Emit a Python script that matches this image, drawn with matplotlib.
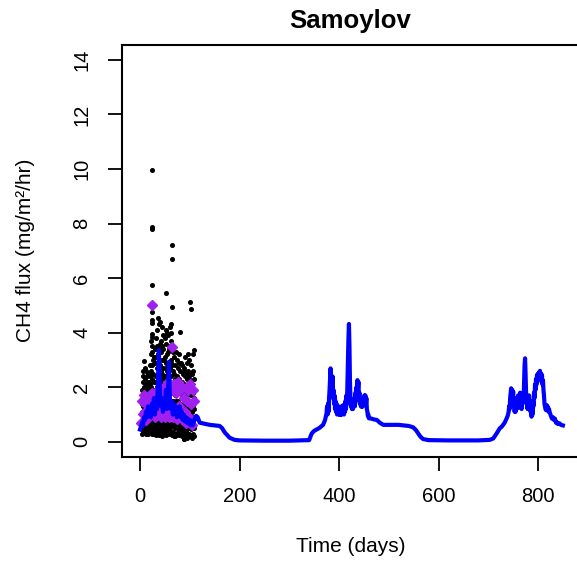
import matplotlib
matplotlib.use("Agg")
import matplotlib.pyplot as plt

plt.rcParams["font.family"] = ["Liberation Sans", "DejaVu Sans"]

# --- modelled CH4 flux (blue line) in pieces ---
# spring/summer of year 1
model_day_a = [0, 2, 4, 6, 8, 10, 12, 14, 16, 18, 20, 22, 24, 26, 28, 30, 32, 34, 36, 38,
               40, 42, 44, 46, 48, 50, 52, 54, 56, 58, 60, 62, 64, 66, 68, 70, 72, 74, 76, 78,
               80, 82, 84, 86, 88, 90, 92, 94, 96, 98, 100, 102, 104, 106, 108, 110, 113, 116, 120, 125,
               130, 140, 150, 160, 165, 170, 175, 180, 190, 200, 250, 300, 340, 345, 350, 360, 368, 372]
model_flux_a = [0.45, 0.55, 0.7, 0.6, 0.9, 0.8, 1.1, 0.9, 1.3, 1.0, 1.2, 0.9, 1.4, 1.1, 1.6, 1.0, 1.5, 1.2, 2.2, 3.36,
                1.8, 1.3, 1.6, 1.1, 1.5, 1.3, 1.9, 1.2, 1.7, 2.93, 1.6, 1.2, 1.5, 1.0, 1.4, 1.1, 1.3, 0.9, 1.2, 1.0,
                1.3, 0.9, 1.1, 0.8, 1.0, 0.75, 0.9, 0.7, 0.85, 0.65, 0.8, 0.6, 0.75, 0.6, 0.7, 0.85, 0.95, 0.9, 0.7, 0.68,
                0.66, 0.62, 0.6, 0.58, 0.5, 0.35, 0.25, 0.15, 0.07, 0.05, 0.04, 0.04, 0.06, 0.3, 0.4, 0.5, 0.62, 0.8]
# year 2 peak season, daily values
model_day_b = list(range(375, 461))
model_flux_b = [1.05, 1.3, 1.0, 1.4, 1.1, 1.6, 1.9, 2.3, 2.69, 2.0, 2.3, 1.8, 2.4, 1.6, 1.9, 1.4, 1.7, 1.2, 1.5, 1.1,
                1.4, 1.0, 1.3, 1.05, 1.3, 1.0, 1.2, 0.98, 1.2, 1.0, 1.3, 1.0, 1.2, 1.05, 1.35, 1.0, 1.3, 1.1, 1.5, 1.2,
                1.7, 1.4, 2.2, 3.0, 3.8, 4.32, 3.5, 2.2, 1.6, 1.3, 1.5, 1.2, 1.4, 1.2, 1.5, 1.3, 1.6, 1.3, 1.8, 1.5,
                2.0, 1.7, 2.26, 1.9, 2.2, 1.6, 1.8, 1.4, 1.5, 1.3, 1.5, 1.28, 1.5, 1.3, 1.6, 1.4, 1.7, 1.5, 1.7, 1.4,
                1.6, 1.2, 1.1, 0.95, 1.0, 0.86]
# autumn/winter of year 2 and early year 3
model_day_c = [465, 470, 476, 482, 489, 500, 520, 540, 549, 555, 559, 564, 569, 580, 620, 680, 703, 710, 717, 723,
               727, 733, 737, 739, 741]
model_flux_c = [0.85, 0.82, 0.8, 0.7, 0.62, 0.62, 0.62, 0.58, 0.53, 0.42, 0.31, 0.18, 0.1, 0.06, 0.05, 0.05, 0.07, 0.12, 0.31, 0.49,
                0.55, 0.7, 0.86, 0.95, 1.1]
# year 3 peak season, daily values
model_day_d = list(range(742, 823))
model_flux_d = [1.3, 1.2, 1.6, 1.8, 1.96, 1.7, 1.9, 1.5, 1.85, 1.3, 1.6, 1.1, 1.4, 1.1, 1.5, 1.2, 1.6, 1.3, 1.7, 1.25,
                1.6, 1.3, 1.8, 1.3, 1.6, 1.2, 1.5, 1.4, 1.8, 1.5, 2.2, 2.8, 3.06, 2.5, 1.8, 1.4, 1.6, 1.2, 1.6, 1.3,
                1.7, 1.2, 1.5, 1.1, 1.3, 0.92, 1.2, 1.0, 1.5, 1.3, 1.8, 1.6, 2.1, 1.9, 2.3, 2.1, 2.45, 2.2, 2.5, 2.3,
                2.55, 2.35, 2.6, 2.4, 2.5, 2.3, 2.45, 2.1, 2.25, 1.9, 1.7, 1.4, 1.3, 1.2, 1.16, 1.35, 1.2, 1.3, 1.28, 1.1,
                1.2]
model_day_e = [824, 826, 828, 830, 832, 834, 836, 838, 840, 843, 846, 850]
model_flux_e = [1.05, 0.95, 0.85, 0.9, 0.8, 0.85, 0.7, 0.72, 0.65, 0.68, 0.62, 0.6]

# --- mean of observations (purple diamonds) ---
mean_day = [2, 4, 6, 8, 10, 12, 14, 16, 18, 20, 22, 24, 25, 26, 28, 30, 32, 34, 36, 38,
            40, 42, 44, 46, 48, 50, 52, 54, 56, 58, 60, 62, 63.5, 64, 66, 68, 70, 72, 74, 76,
            78, 80, 82, 84, 86, 88, 90, 92, 94, 96, 98, 100, 102, 104, 106, 108]
mean_flux = [0.7, 1.5, 1.0, 1.7, 1.1, 0.8, 1.6, 1.3, 1.0, 1.7, 1.2, 1.8, 5.0, 1.1, 1.5, 0.9, 1.7, 1.2, 1.9, 1.0,
             1.6, 0.9, 1.9, 1.2, 2.0, 0.9, 1.8, 1.1, 2.2, 0.9, 1.9, 1.2, 3.46, 2.0, 0.9, 2.1, 1.2, 1.8, 0.85, 2.2,
             1.3, 1.9, 0.9, 2.0, 0.8, 1.6, 1.1, 0.7, 1.5, 1.9, 0.9, 2.1, 1.4, 0.6, 1.9, 1.5]

# --- chamber observations (black points), grouped by day ---
obs_days = [4, 6, 7, 8, 10, 12, 13, 14, 16, 17, 18, 20, 21, 23, 24,
            25, 27, 28, 30, 32, 33, 35, 37, 38, 40, 42, 44, 45,
            47, 49, 50, 52, 53, 55, 57, 59, 60, 62, 63, 64,
            66, 68, 69, 71, 72, 74, 76, 78, 79, 81, 83, 84,
            86, 88, 89, 91, 93, 94, 96, 98, 99, 101, 103,
            104, 106, 108]
obs_flux = [
    [0.3, 0.5, 0.8, 1.1, 1.4, 1.9],
    [0.4, 0.6, 1.0, 1.3, 1.7, 2.2, 2.6],
    [0.5, 1.3, 2.4],
    [0.35, 0.7, 0.9, 1.2, 1.6, 2.0, 2.97],
    [0.5, 0.8, 1.1, 1.5, 1.8, 2.3, 2.7],
    [0.3, 0.6, 0.95, 1.3, 1.7, 2.1],
    [0.4, 1.0, 1.5, 2.6],
    [0.45, 0.75, 1.0, 1.4, 1.9, 2.4],
    [0.3, 0.55, 0.85, 1.2, 1.6, 2.0, 2.5],
    [0.35, 0.9, 1.4, 2.2],
    [0.4, 0.7, 1.0, 1.35, 1.75, 2.2],
    [0.5, 1.0, 1.7, 2.4],
    [0.35, 0.6, 0.9, 1.25, 1.6, 2.1, 2.8],
    [0.5, 0.8, 1.1, 1.5, 2.0, 2.6, 3.2, 3.7],
    [0.35, 0.9, 1.6, 2.5, 3.5],
    [0.3, 0.6, 0.9, 1.3, 1.8, 2.3, 2.8, 3.3, 3.85, 3.95, 4.34, 4.46, 4.77, 5.75, 7.79, 7.86, 9.96],
    [0.4, 0.7, 1.0, 1.4, 1.9, 2.5, 3.0],
    [0.3, 0.8, 1.5, 2.2, 3.1],
    [0.3, 0.55, 0.8, 1.2, 1.6, 2.2, 2.9, 3.4],
    [0.25, 0.6, 0.9, 1.3, 1.7, 2.4, 3.1],
    [0.5, 1.1, 1.9, 2.9, 3.8],
    [0.35, 0.65, 1.0, 1.5, 2.0, 2.7, 3.5, 4.1],
    [0.3, 0.5, 0.8, 1.2, 1.8, 2.5, 3.2, 4.52],
    [0.25, 0.8, 1.5, 2.4, 3.4, 4.3],
    [0.4, 0.7, 1.1, 1.6, 2.2, 2.8, 3.6, 4.40],
    [0.3, 0.6, 0.9, 1.4, 2.0, 2.6, 3.3, 3.7],
    [0.2, 0.5, 0.85, 1.3, 1.9, 2.5, 3.0, 4.22],
    [0.25, 0.7, 1.4, 2.3, 3.5],
    [0.35, 0.7, 1.0, 1.5, 2.1, 2.7, 3.4, 3.9],
    [0.45, 1.2, 2.0, 3.0],
    [0.3, 0.6, 0.95, 1.4, 1.9, 2.4, 3.1, 3.8],
    [0.25, 0.55, 0.9, 1.3, 1.8, 2.3, 2.9, 3.6, 5.44],
    [0.35, 1.0, 1.8, 2.7, 4.1],
    [0.4, 0.7, 1.05, 1.5, 2.0, 2.6, 3.2, 4.0],
    [0.3, 0.6, 0.9, 1.35, 1.9, 2.5, 3.3, 3.9],
    [0.45, 1.2, 2.2, 3.4],
    [0.35, 0.65, 1.0, 1.45, 2.0, 2.7, 3.5, 4.2],
    [0.3, 0.55, 0.9, 1.3, 1.8, 2.4, 3.0, 3.7, 4.3],
    [0.35, 1.0, 1.9, 2.9, 4.0],
    [0.25, 0.6, 1.0, 1.5, 2.1, 2.8, 3.4, 4.95, 6.70, 7.21],
    [0.35, 0.7, 1.05, 1.5, 2.0, 2.6, 3.3],
    [0.2, 0.7, 1.4, 2.2],
    [0.3, 0.6, 0.95, 1.4, 1.9, 2.5, 3.1],
    [0.2, 0.5, 0.85, 1.25, 1.7, 2.3, 2.8],
    [0.25, 0.8, 1.5, 2.3, 3.3],
    [0.3, 0.65, 1.0, 1.4, 1.9, 2.4, 3.0],
    [0.35, 0.7, 1.1, 1.5, 2.1, 2.7],
    [0.45, 1.1, 1.9],
    [0.25, 0.6, 0.9, 1.3, 1.8, 2.3, 2.9, 3.2],
    [0.3, 0.55, 0.95, 1.4, 2.0, 2.6, 4.03],
    [0.35, 1.0, 1.8, 2.9],
    [0.2, 0.5, 0.8, 1.2, 1.7, 2.2, 2.8],
    [0.3, 0.6, 1.0, 1.4, 1.9, 2.5],
    [0.1, 0.55, 1.2, 2.0, 2.6],
    [0.1, 0.4, 0.75, 1.1, 1.6, 2.1, 2.7],
    [0.2, 0.5, 0.85, 1.3, 1.8, 2.4, 3.1],
    [0.35, 1.0, 1.6, 2.5],
    [0.15, 0.45, 0.8, 1.2, 1.7, 2.3, 2.9],
    [0.3, 0.6, 0.95, 1.35, 1.9, 2.6, 3.2],
    [0.3, 0.9, 1.5, 2.3],
    [0.2, 0.5, 0.85, 1.25, 1.75, 2.4, 3.0],
    [0.25, 0.6, 1.0, 1.4, 1.9, 2.5, 5.13],
    [0.2, 0.45, 0.8, 1.2, 1.7, 2.2, 2.8, 4.85],
    [0.15, 0.55, 1.1, 1.8, 2.5],
    [0.3, 0.6, 0.9, 1.3, 1.8, 2.6, 3.2],
    [0.2, 0.5, 0.85, 1.2, 1.6, 2.3, 3.36],
]

x_ticks = [0, 200, 400, 600, 800]
y_ticks = [0, 2, 4, 6, 8, 10, 12, 14]


def main():
    W, H = 577, 562
    fig = plt.figure(figsize=(W / 100, H / 100), dpi=100)
    # plot box in pixel coords: left 122, right 579 (just off the image), top 44.5, bottom 456.5
    ax = fig.add_axes([122 / W, (H - 456.5) / H, (579 - 122) / W, (456.5 - 44.5) / H])

    pts_x = []
    pts_y = []
    for d, vals in zip(obs_days, obs_flux):
        for v in vals:
            pts_x.append(d)
            pts_y.append(v)

    model_day = model_day_a + model_day_b + model_day_c + model_day_d + model_day_e
    model_flux = model_flux_a + model_flux_b + model_flux_c + model_flux_d + model_flux_e

    ax.plot(pts_x, pts_y, linestyle="none", marker="o", ms=2.6, color="black")
    ax.plot(mean_day, mean_flux, linestyle="none", marker="D", ms=4.8, color="#A020F0")
    ax.plot(model_day, model_flux, color="#0000FF", lw=3, solid_joinstyle="round")

    ax.set_xlim(-36.2, 882.4)
    ax.set_ylim(-0.54, 14.565)
    ax.set_xticks(x_ticks)
    ax.set_yticks(y_ticks)
    ax.tick_params(direction="out", length=10, width=1.3, labelsize=14.5, pad=12)
    for lab in ax.get_yticklabels():
        lab.set_rotation(90)
        lab.set_va("center")
    for sp in ax.spines.values():
        sp.set_linewidth(1.5)

    fig.text(350 / W, 1 - 28 / H, "Samoylov", ha="center", va="baseline",
             fontsize=18.5, fontweight="bold")
    fig.text(350.5 / W, 1 - 546 / H, "Time (days)", ha="center", va="center", fontsize=15)
    fig.text(26 / W, 1 - 250 / H, "CH4 flux (mg/m²/hr)", ha="center", va="center",
             rotation=90, fontsize=15)

    fig.savefig("out.png", dpi=100)


if __name__ == "__main__":
    main()
